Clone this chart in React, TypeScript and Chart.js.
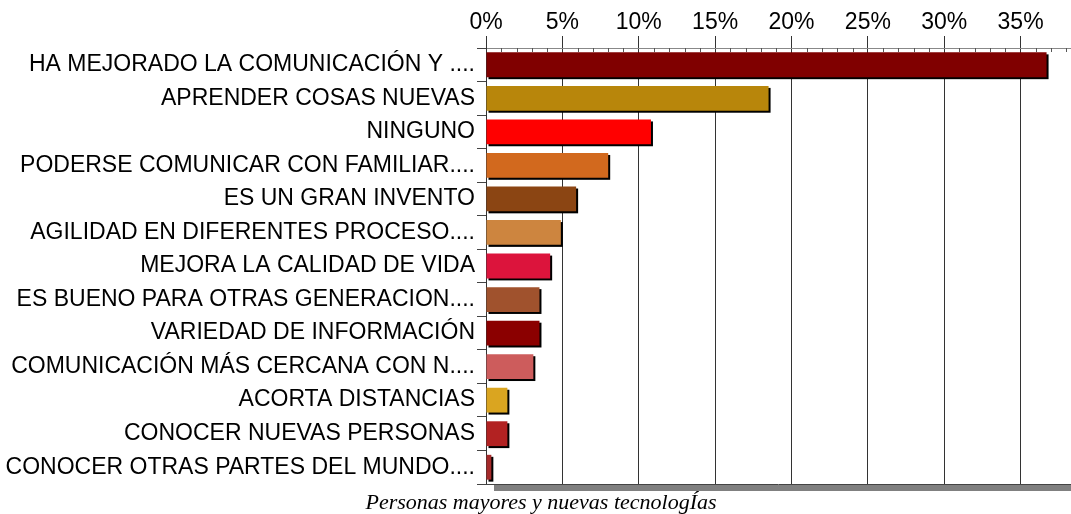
import React, { useEffect, useRef } from 'react';
import { Chart, registerables } from 'chart.js';

Chart.register(...registerables);

const categories = [
  'HA MEJORADO LA COMUNICACIÓN Y ....',
  'APRENDER COSAS NUEVAS',
  'NINGUNO',
  'PODERSE COMUNICAR CON FAMILIAR....',
  'ES UN GRAN INVENTO',
  'AGILIDAD EN DIFERENTES PROCESO....',
  'MEJORA LA CALIDAD DE VIDA',
  'ES BUENO PARA OTRAS GENERACION....',
  'VARIEDAD DE INFORMACIÓN',
  'COMUNICACIÓN MÁS CERCANA CON N....',
  'ACORTA DISTANCIAS',
  'CONOCER NUEVAS PERSONAS',
  'CONOCER OTRAS PARTES DEL MUNDO....',
];

const values = [36.7, 18.5, 10.8, 8.0, 5.9, 4.9, 4.2, 3.5, 3.5, 3.1, 1.4, 1.4, 0.35];

const barColors = [
  '#800000', '#B8860B', '#FF0000', '#D2691E', '#8B4513', '#CD853F', '#DC143C',
  '#A0522D', '#8B0000', '#CD5C5C', '#DAA520', '#B22222', '#A52A2A',
];

const xMax = 38.3;
const caption = 'Personas mayores y nuevas tecnologÍas';

const decorPlugin = {
  id: 'decor',
  beforeDatasetsDraw(chart: any) {
    const ctx = chart.ctx;
    const meta = chart.getDatasetMeta(0);
    ctx.save();
    ctx.fillStyle = '#000';
    meta.data.forEach((bar: any) => {
      const p = bar.getProps(['x', 'y', 'base', 'height'], true);
      ctx.fillRect(p.base + 2, p.y - p.height / 2 + 2, p.x - p.base, p.height);
    });
    ctx.restore();
  },
  afterDraw(chart: any) {
    const ctx = chart.ctx;
    const area = chart.chartArea;
    const xs = chart.scales.x;
    ctx.save();
    ctx.fillStyle = '#808080';
    ctx.fillRect(area.left + 8, area.bottom + 1, area.right - area.left, 6);
    ctx.strokeStyle = '#444';
    ctx.lineWidth = 1;
    ctx.beginPath();
    ctx.moveTo(area.left, area.bottom + 0.5);
    ctx.lineTo(area.right, area.bottom + 0.5);
    ctx.stroke();
    ctx.strokeStyle = '#555';
    for (let v = 1; v <= Math.floor(xMax); v++) {
      if (v % 5 === 0) continue;
      const px = Math.round(xs.getPixelForValue(v)) + 0.5;
      ctx.beginPath();
      ctx.moveTo(px, area.top);
      ctx.lineTo(px, area.top + 4);
      ctx.stroke();
    }
    ctx.fillStyle = '#000';
    ctx.font = 'italic 22px "Liberation Serif", "Times New Roman", serif';
    ctx.textAlign = 'center';
    ctx.textBaseline = 'middle';
    ctx.fillText(caption, 541, 503);
    ctx.restore();
  },
};

export default function App() {
  const ref = useRef<HTMLCanvasElement | null>(null);

  useEffect(() => {
    if (!ref.current) return;
    const chart = new Chart(ref.current, {
      type: 'bar',
      data: {
        labels: categories,
        datasets: [
          {
            data: values,
            backgroundColor: barColors,
            borderWidth: 0,
            barPercentage: 0.74,
            categoryPercentage: 1,
          },
        ],
      },
      options: {
        indexAxis: 'y',
        responsive: false,
        animation: false,
        layout: { padding: { top: 0, right: 0, bottom: 30, left: 0 } },
        plugins: {
          legend: { display: false },
          tooltip: { enabled: false },
          title: { display: false },
        },
        scales: {
          x: {
            type: 'linear',
            position: 'top',
            min: 0,
            max: xMax,
            afterFit: (s: any) => {
              s.height = 48;
            },
            ticks: {
              stepSize: 1,
              autoSkip: false,
              maxRotation: 0,
              padding: 0,
              color: '#000',
              font: { family: '"Liberation Sans", Arial, sans-serif', size: 23 },
              callback: (v: any) => (Math.abs(v % 5) < 1e-9 ? v + '%' : ''),
            },
            grid: {
              color: (c: any) =>
                c.tick && Math.abs(c.tick.value % 5) < 1e-9 && c.tick.value !== 0 ? '#333' : 'rgba(0,0,0,0)',
              tickColor: (c: any) =>
                c.tick && Math.abs(c.tick.value % 5) < 1e-9 ? '#333' : 'rgba(0,0,0,0)',
              tickLength: 12,
              lineWidth: 1,
            },
            border: { color: '#888', width: 1 },
          },
          y: {
            type: 'category',
            afterFit: (s: any) => {
              s.width = 486;
            },
            ticks: {
              padding: 2,
              color: '#000',
              autoSkip: false,
              font: { family: '"Liberation Sans", Arial, sans-serif', size: 23 },
            },
            grid: {
              drawOnChartArea: false,
              tickLength: 9,
              tickColor: '#444',
            },
            border: { color: '#333', width: 1 },
          },
        },
      },
      plugins: [decorPlugin],
    } as any);
    return () => chart.destroy();
  }, []);

  return (
    <div style={{ position: 'absolute', left: 0, top: 0, width: 1071, height: 514 }}>
      <canvas ref={ref} width={1071} height={514} style={{ display: 'block' }} />
    </div>
  );
}
